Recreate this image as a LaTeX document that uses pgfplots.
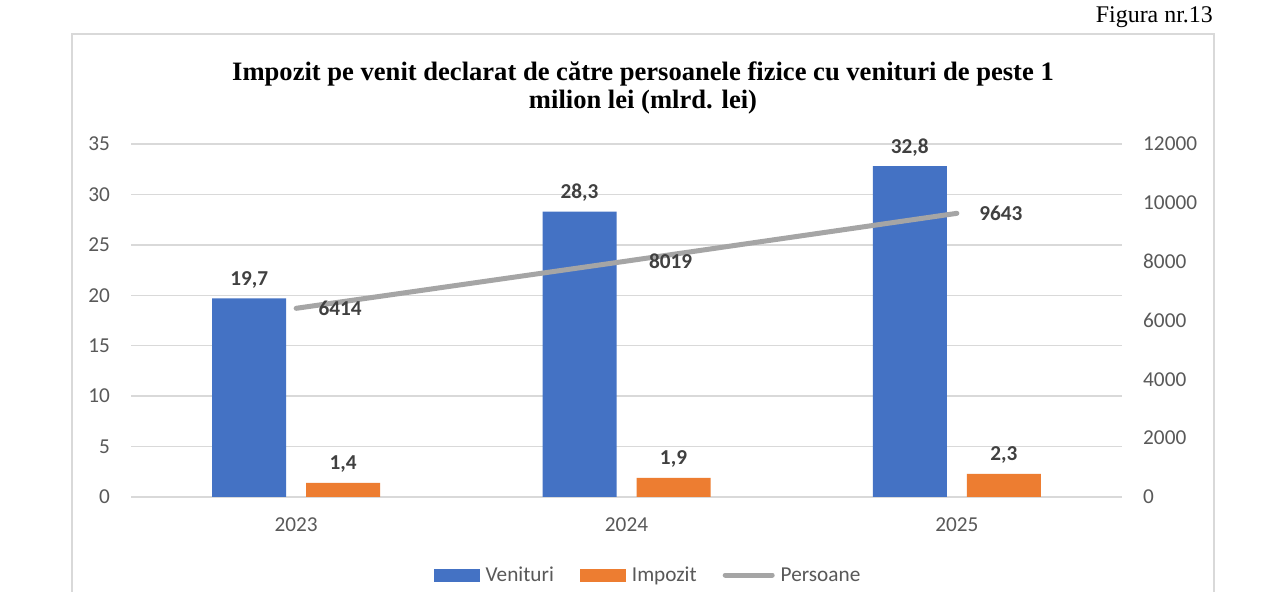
\documentclass[border=0pt]{standalone}
\usepackage{pgfplots}
\pgfplotsset{compat=1.18}
\usepackage{fontspec}
\setmainfont{Liberation Serif}
\newfontfamily\carlito{Carlito}
\definecolor{cblue}{HTML}{4472C4}
\definecolor{corange}{HTML}{ED7D31}
\definecolor{cgray}{HTML}{A5A5A5}
\definecolor{gridgray}{HTML}{D9D9D9}
\definecolor{tickgray}{HTML}{595959}
\definecolor{labgray}{HTML}{404040}
\definecolor{framegray}{HTML}{D9D9D9}
\begin{document}
\begin{tikzpicture}
\useasboundingbox (0,0) rectangle (1280bp,592bp);
\fill[white] (0,0) rectangle (1280bp,592bp);
\draw[framegray, line width=1.3bp] (72bp,0bp) -- (72bp,558bp) -- (1214bp,558bp) -- (1214bp,0bp);
\node[anchor=base east, inner sep=0, font=\fontsize{24}{28}\selectfont] at (1213bp,569bp) {Figura nr.13};
\node[anchor=base, inner sep=0, font=\bfseries\fontsize{26.67}{30}\selectfont] at (643bp,511bp) {Impozit pe venit declarat de către persoanele fizice cu venituri de peste 1};
\node[anchor=base, inner sep=0, font=\bfseries\fontsize{26.67}{30}\selectfont] at (643bp,483bp) {milion lei (mlrd. lei)};
\begin{axis}[
  at={(131bp,95bp)}, anchor=south west, scale only axis,
  width=991bp, height=353bp,
  xmin=-0.5, xmax=2.5, ymin=0, ymax=35,
  xtick={0,1,2}, xticklabels={2023,2024,2025},
  ytick={0,5,...,35},
  ymajorgrids, grid style={color=gridgray, line width=1.3bp},
  axis line style={draw=none}, major tick length=0pt,
  /pgf/number format/assume math mode=true,
  tick label style={font=\carlito\fontsize{21.33}{24}\selectfont, text=tickgray, inner sep=0pt},
  yticklabel style={anchor=east, xshift=-21bp},
  xticklabel style={anchor=north, yshift=-21bp},
  ybar, bar width=74bp,
  nodes near coords={\pgfmathprintnumber[use comma,fixed,fixed zerofill,precision=1]{\pgfplotspointmeta}},
  nodes near coords style={font=\carlito\bfseries\fontsize{21.33}{24}\selectfont, text=labgray, anchor=base, inner sep=0pt, yshift=13bp},
  legend columns=3,
  legend style={at={(rel axis cs:0.5207,-0.221)}, anchor=center, draw=none, fill=none,
    inner sep=0pt, font=\carlito\fontsize{21.33}{24}\selectfont, text=tickgray,
    nodes={inner sep=0pt},
    /tikz/every odd column/.append style={column sep=6bp},
    /tikz/every even column/.append style={column sep=26bp}},
]
\addplot[fill=cblue, draw=none, bar shift=-47bp,
  legend image code/.code={\fill[cblue] (0bp,-6.5bp) rectangle (46bp,6.5bp);}]
  coordinates {(0,19.7) (1,28.3) (2,32.8)};
\addlegendentry{Venituri}
\addplot[fill=corange, draw=none, bar shift=47bp,
  legend image code/.code={\fill[corange] (0bp,-6.5bp) rectangle (46bp,6.5bp);}]
  coordinates {(0,1.4) (1,1.9) (2,2.3)};
\addlegendentry{Impozit}
\addlegendimage{legend image code/.code={\draw[cgray, line width=5bp, line cap=round] (2bp,0bp) -- (49bp,0bp);}}
\addlegendentry{Persoane}
\end{axis}
\begin{axis}[
  at={(131bp,95bp)}, anchor=south west, scale only axis,
  width=991bp, height=353bp,
  xmin=-0.5, xmax=2.5, ymin=0, ymax=12000,
  axis x line=none, axis y line*=right,
  ytick={0,2000,...,12000}, scaled y ticks=false,
  axis line style={draw=none}, major tick length=0pt,
  /pgf/number format/assume math mode=true,
  /pgf/number format/1000 sep={},
  tick label style={font=\carlito\fontsize{21.33}{24}\selectfont, text=tickgray, inner sep=0pt},
  yticklabel style={anchor=west, xshift=21bp},
]
\addplot[cgray, line width=5bp, line cap=round,
  nodes near coords={\pgfmathprintnumber[fixed,precision=0,1000 sep={}]{\pgfplotspointmeta}},
  nodes near coords style={font=\carlito\bfseries\fontsize{21.33}{24}\selectfont, text=labgray, anchor=west, inner sep=0pt, xshift=20bp}]
  coordinates {(0,6414) (1,8019) (2,9643)};
\end{axis}
\end{tikzpicture}
\end{document}
